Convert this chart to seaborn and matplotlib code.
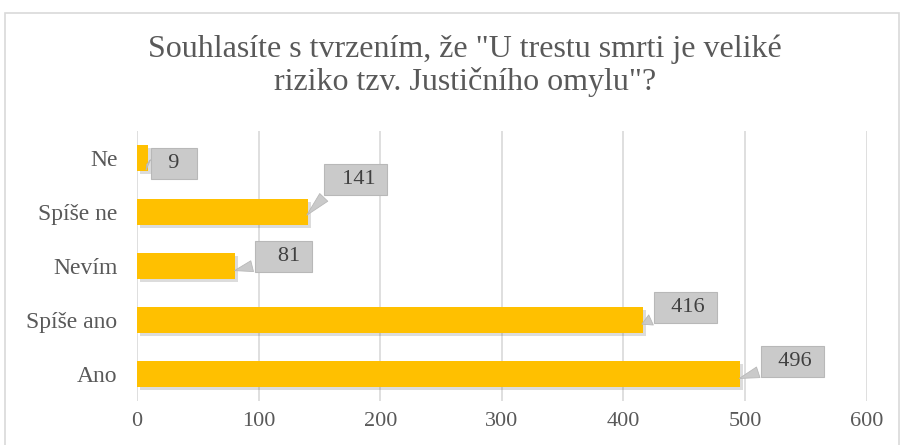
import matplotlib
matplotlib.use("Agg")
import matplotlib.pyplot as plt
import matplotlib.patheffects as pe
from matplotlib.patches import Rectangle
import seaborn as sns
import pandas as pd

# Data
odpovedi = ["Ne", "Spíše ne", "Nevím", "Spíše ano", "Ano"]
pocty = [9, 141, 81, 416, 496]
# label box offsets (pixels) relative to the pointer tip
posuny = [(30, 0), (51, 38), (52, 15), (46, 18), (56, 18)]

df = pd.DataFrame({"Odpověď": odpovedi, "Počet": pocty})

sns.set_style("white")
plt.rcParams["font.family"] = ["Liberation Serif", "DejaVu Serif"]
seda = "#595959"

fig = plt.figure(figsize=(9.01, 4.45), dpi=100)
ax = fig.add_axes([0.152, 0.099, 0.81, 0.607])

sns.barplot(data=df, x="Počet", y="Odpověď", order=odpovedi, color="#FFC000",
            width=0.48, ax=ax, zorder=3, saturation=1, linewidth=0)
for p in ax.patches:
    p.set_path_effects([pe.SimplePatchShadow(offset=(2, -2), alpha=0.22, shadow_rgbFace="#606060"),
                        pe.Normal()])

mezery = {1: ("  ", "  "), 2: ("   ", " "), 3: ("  ", " ")}
for i, (v, (dx, dy)) in enumerate(zip(pocty, posuny)):
    s = str(v)
    lev, prav = mezery[len(s)]
    ax.annotate(lev + s + prav, xy=(v - 3, i + 0.1), xytext=(dx, dy), textcoords="offset pixels",
                ha="center", va="center", fontsize=16, color="#404040", zorder=5,
                bbox=dict(boxstyle="square,pad=0.28", fc="#CACACA", ec="#B8B8B8", lw=0.8),
                arrowprops=dict(arrowstyle="wedge,tail_width=0.5,shrink_factor=0.5",
                                fc="#CACACA", ec="#B8B8B8", lw=0.6, relpos=(0.08, 0.15)))

ax.set_xlim(0, 600)
ax.set_xticks(range(0, 601, 100))
ax.set_ylim(4.5, -0.5)
ax.set_xlabel("")
ax.set_ylabel("")
ax.grid(axis="x", color="#D9D9D9", lw=1.2, zorder=0)
ax.tick_params(axis="x", length=0, labelsize=16, colors=seda, pad=8)
ax.tick_params(axis="y", length=0, labelsize=17, colors=seda, pad=14)
for s in ax.spines.values():
    s.set_visible(False)

fig.text(0.516, 0.852, 'Souhlasíte s tvrzením, že "U trestu smrti je veliké\nriziko tzv. Justičního omylu"?',
         ha="center", va="center", fontsize=23, color=seda, linespacing=1.12)

fig.patches.append(Rectangle((0.005, -0.01), 0.993, 0.98, transform=fig.transFigure,
                             fill=False, ec="#D9D9D9", lw=1.2))

fig.savefig("out.png", dpi=100)
